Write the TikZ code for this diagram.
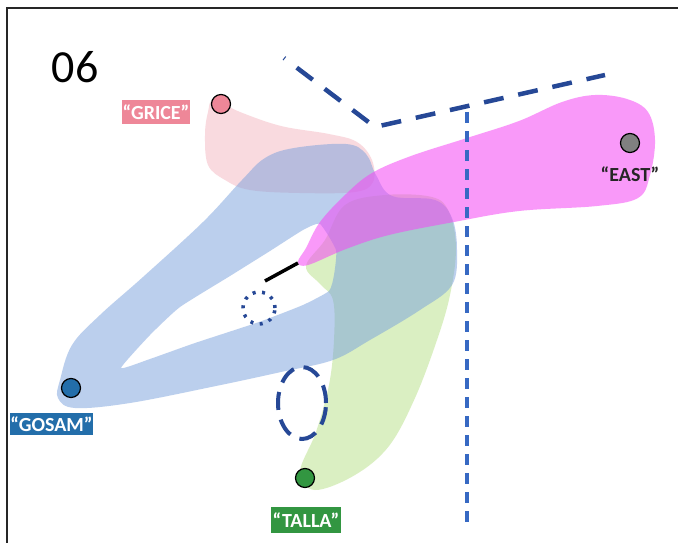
\documentclass[tikz,border=0pt]{standalone}
\usepackage{fontspec}
\setmainfont{Carlito}
\definecolor{pinkf}{RGB}{240,150,165}
\definecolor{bluef}{RGB}{120,160,220}
\definecolor{greenf}{RGB}{175,220,120}
\definecolor{magf}{RGB}{245,70,245}
\definecolor{darkdash}{RGB}{38,72,150}
\definecolor{vdash}{RGB}{55,105,195}
\definecolor{gricec}{RGB}{238,135,152}
\definecolor{gosamc}{RGB}{35,110,170}
\definecolor{tallac}{RGB}{50,150,65}
\definecolor{eastc}{RGB}{128,128,128}
\begin{document}
\begin{tikzpicture}[x=1pt,y=-1pt,
  dot/.style={circle,draw=black,line width=1.2pt,minimum size=19pt,inner sep=0pt},
  lab/.style={text=white,inner sep=0pt,font=\fontsize{20}{20}\selectfont\bfseries},
  dline/.style={draw=darkdash,line width=4.5pt,dash pattern=on 20pt off 15pt},
]
\useasboundingbox (0,0) rectangle (678,543);
\fill[white] (0,0) rectangle (678,543);
% frame
\draw[line width=2pt,black!85] (7,543) -- (7,8) -- (678,8);
% number
\node[font=\fontsize{46}{46}\selectfont] (num) at (75,67) {06};
% pink (GRICE) blob
\fill[pinkf,fill opacity=0.35] plot[smooth cycle,tension=0.6] coordinates {(214,100) (240,112) (281,126) (329,134) (357,142) (372,160) (373,182) (355,192) (300,193) (250,190) (225,180) (208,165) (205,135) (208,112)};
% green (TALLA) blob
\fill[greenf,fill opacity=0.45] plot[smooth cycle,tension=0.6] coordinates {(300,472) (316,432) (329,385) (334,340) (333,300) (320,284) (306,266) (325,240) (345,205) (385,195) (432,197) (449,212) (456,248) (450,295) (437,340) (415,398) (389,446) (355,475) (315,490)};
% blue (GOSAM) blob with hole
\fill[bluef,fill opacity=0.5,even odd rule]
  plot[smooth cycle,tension=0.6] coordinates {(60,380) (72,345) (100,315) (143,277) (203,222) (242,180) (265,158) (294,148) (346,144) (366,154) (376,175) (392,196) (435,200) (452,218) (457,250) (452,285) (420,310) (370,340) (333,360) (281,372) (216,386) (130,403) (75,408) (58,398)}
  plot[smooth cycle,tension=0.3] coordinates {(121,368) (150,335) (180,307) (230,276) (270,251) (303,230) (320,224) (336,250) (334,275) (329,291) (303,305) (259,322) (195,343) (150,359)};
% magenta (EAST) blob
\fill[magf,fill opacity=0.55] plot[smooth cycle,tension=0.6] coordinates {(298,262) (306,248) (320,222) (346,194) (372,173) (411,156) (467,138) (519,121) (562,102) (595,95) (627,99) (648,112) (655,140) (650,175) (638,198) (597,206) (519,211) (454,222) (389,235) (346,249) (308,265)};
% dashed lines
\coordinate (d1) at (284,58);
\coordinate (d2) at (375,127);
\coordinate (d3) at (605,75);
\draw[dline,dash phase=19pt] (d1) -- (d2) -- (d3);
\coordinate (v1) at (467,112);
\coordinate (v2) at (467,522);
\draw[vdash,line width=3.5pt,dash pattern=on 11pt off 8pt] (v1) -- (v2);
% black stub
\coordinate (b1) at (265,281);
\coordinate (b2) at (298,263);
\draw[black,line width=3.5pt] (b1) -- (b2);
% dotted circle and dashed ellipse
\coordinate (dc) at (259,308);
\draw[darkdash,line width=3.5pt,dash pattern=on 3pt off 6.5pt] (dc) circle [radius=16pt];
\coordinate (el) at (302,403);
\draw[darkdash,line width=4pt,dash pattern=on 18pt off 10pt] (el) ellipse [x radius=24pt,y radius=36pt];
% endpoints
\node[dot,fill=gricec] (grice) at (221,104) {};
\node[dot,fill=eastc] (east) at (630,143) {};
\node[dot,fill=gosamc] (gosam) at (71,388) {};
\node[dot,fill=tallac] (talla) at (305,478) {};
% labels
\node[lab,fill=gricec,minimum width=68pt,minimum height=24pt] (gricel) at (156,112) {“GRICE”};
\node[lab,text=black!85] (eastl) at (630,174) {“EAST”};
\node[lab,fill=gosamc,minimum width=83pt,minimum height=22pt] (gosaml) at (51.5,424) {“GOSAM”};
\node[lab,fill=tallac,minimum width=70pt,minimum height=26pt] (tallal) at (306,520) {“TALLA”};
\end{tikzpicture}
\end{document}
